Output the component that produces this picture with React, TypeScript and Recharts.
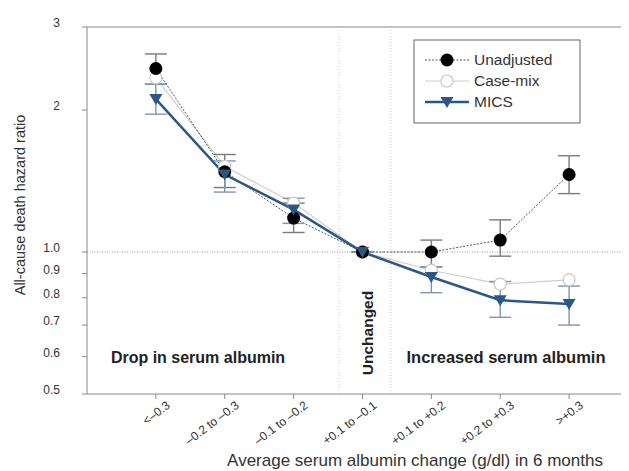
import React from "react";
import { LineChart, Line, XAxis, YAxis, ReferenceLine, ErrorBar } from "recharts";

const categories = ["<–0.3", "–0.2 to –0.3", "–0.1 to –0.2", "+0.1 to –0.1", "+0.1 to +0.2", "+0.2 to +0.3", ">+0.3"];
const positions = [1, 2, 3, 4, 5, 6, 7];

const unadjusted = [2.45, 1.48, 1.18, 1.0, 1.0, 1.06, 1.46];
const unadjustedLow = [2.27, 1.37, 1.1, 1.0, 0.93, 0.98, 1.33];
const unadjustedHigh = [2.63, 1.61, 1.27, 1.0, 1.06, 1.17, 1.6];

const caseMix = [2.34, 1.52, 1.27, 1.0, 0.915, 0.855, 0.873];

const mics = [2.11, 1.46, 1.23, 1.0, 0.885, 0.79, 0.776];
const micsLow = [1.96, 1.34, 1.15, 1.0, 0.82, 0.727, 0.7];
const micsHigh = [2.27, 1.56, 1.3, 1.0, 0.93, 0.866, 0.847];

const yTicks = [0.5, 0.6, 0.7, 0.8, 0.9, 1.0, 2, 3];
const yTickLabels = ["0.5", "0.6", "0.7", "0.8", "0.9", "1.0", "2", "3"];

const seriesNames = ["Unadjusted", "Case-mix", "MICS"];

const FONT = "'Liberation Sans', Arial, sans-serif";
const BLUE = "#2b5788";

const data = positions.map((x, i) => ({
  x,
  u: unadjusted[i],
  uErr: [unadjusted[i] - unadjustedLow[i], unadjustedHigh[i] - unadjusted[i]],
  c: caseMix[i],
  m: mics[i],
  mErr: [mics[i] - micsLow[i], micsHigh[i] - mics[i]],
}));

const BlackDot = (p: any) => <circle cx={p.cx} cy={p.cy} r={6.5} fill="#000" />;
const OpenDot = (p: any) => <circle cx={p.cx} cy={p.cy} r={6} fill="#fff" stroke="#c8c8c8" strokeWidth={1.2} />;
const Tri = (p: any) => (
  <path d={`M${p.cx - 6.5},${p.cy - 5} L${p.cx + 6.5},${p.cy - 5} L${p.cx},${p.cy + 6} Z`} fill={BLUE} />
);

const YTick = (p: any) => {
  const i = yTicks.indexOf(p.payload.value);
  return (
    <text x={p.x} y={p.y} textAnchor="end" fontSize={12} fill="#333" fontFamily={FONT}>
      {yTickLabels[i]}
    </text>
  );
};

const XTick = (p: any) => {
  const i = positions.indexOf(p.payload.value);
  const tx = p.x + 15;
  const ty = p.y + 6;
  return (
    <text x={tx} y={ty} textAnchor="end" fontSize={12} fill="#333" fontFamily={FONT} transform={`rotate(-37 ${tx} ${ty})`}>
      {categories[i]}
    </text>
  );
};

export default function App() {
  return (
    <div style={{ width: 621, height: 463, overflow: "hidden" }}>
      <LineChart width={621} height={463} data={data} margin={{ top: 19, right: 0, bottom: 0, left: 0 }}>
        <XAxis
          type="number"
          dataKey="x"
          domain={[0, 7.87]}
          ticks={positions}
          allowDataOverflow
          tick={<XTick />}
          tickSize={5}
          tickMargin={2}
          height={77}
          stroke="#888"
          interval={0}
        />
        <YAxis
          scale="log"
          domain={[0.5, 3]}
          ticks={yTicks}
          allowDataOverflow
          tick={<YTick />}
          tickSize={5}
          tickMargin={22}
          width={79}
          stroke="#888"
          interval={0}
        />
        <ReferenceLine y={3} stroke="#888" strokeWidth={1} />
        <ReferenceLine y={1} stroke="#999" strokeDasharray="1 1.5" />
        <ReferenceLine x={3.66} stroke="#c4c4c4" strokeDasharray="1 2" />
        <ReferenceLine x={4.41} stroke="#c4c4c4" strokeDasharray="1 2" />
        <Line dataKey="c" stroke="#cfcfcf" strokeWidth={1.2} dot={<OpenDot />} activeDot={false} isAnimationActive={false} />
        <Line dataKey="u" stroke="#555" strokeWidth={1} strokeDasharray="2 1.5" dot={<BlackDot />} activeDot={false} isAnimationActive={false}>
          <ErrorBar dataKey="uErr" width={11} stroke="#7a7a7a" strokeWidth={1.4} direction="y" isAnimationActive={false} />
        </Line>
        <Line dataKey="m" stroke={BLUE} strokeWidth={2.5} dot={<Tri />} activeDot={false} isAnimationActive={false}>
          <ErrorBar dataKey="mErr" width={11} stroke="#7f96ad" strokeWidth={1.4} direction="y" isAnimationActive={false} />
        </Line>

        <text x={190} y={355} textAnchor="middle" fontSize={16} fontWeight="bold" fill="#222" fontFamily={FONT}>
          Drop in serum albumin
        </text>
        <text x={498} y={355} textAnchor="middle" fontSize={16.5} fontWeight="bold" fill="#222" fontFamily={FONT}>
          Increased serum albumin
        </text>
        <text x={365} y={325} textAnchor="middle" fontSize={15.5} fontWeight="bold" fill="#222" fontFamily={FONT} transform="rotate(-90 365 325)">
          Unchanged
        </text>
        <text x={17} y={197} textAnchor="middle" fontSize={14.5} fill="#333" fontFamily={FONT} transform="rotate(-90 17 197)">
          All-cause death hazard ratio
        </text>
        <text x={407} y={458} textAnchor="middle" fontSize={17} fill="#333" fontFamily={FONT}>
          Average serum albumin change (g/dl) in 6 months
        </text>

        <g>
          <rect x={406} y={32} width={166} height={83} fill="#fff" stroke="#666" strokeWidth={1} />
          <line x1={417} x2={461} y1={52} y2={52} stroke="#555" strokeDasharray="2 1.5" />
          <circle cx={439} cy={52} r={6.5} fill="#000" />
          <text x={466} y={57} fontSize={15.5} fill="#333" fontFamily={FONT}>{seriesNames[0]}</text>
          <line x1={417} x2={461} y1={73} y2={73} stroke="#cfcfcf" strokeWidth={1.2} />
          <circle cx={439} cy={73} r={6} fill="#fff" stroke="#c8c8c8" strokeWidth={1.2} />
          <text x={466} y={78} fontSize={15.5} fill="#333" fontFamily={FONT}>{seriesNames[1]}</text>
          <line x1={417} x2={461} y1={94} y2={94} stroke={BLUE} strokeWidth={2.5} />
          <path d="M432.5,89 L445.5,89 L439,100 Z" fill={BLUE} />
          <text x={466} y={99} fontSize={15.5} fill="#333" fontFamily={FONT}>{seriesNames[2]}</text>
        </g>
      </LineChart>
    </div>
  );
}
